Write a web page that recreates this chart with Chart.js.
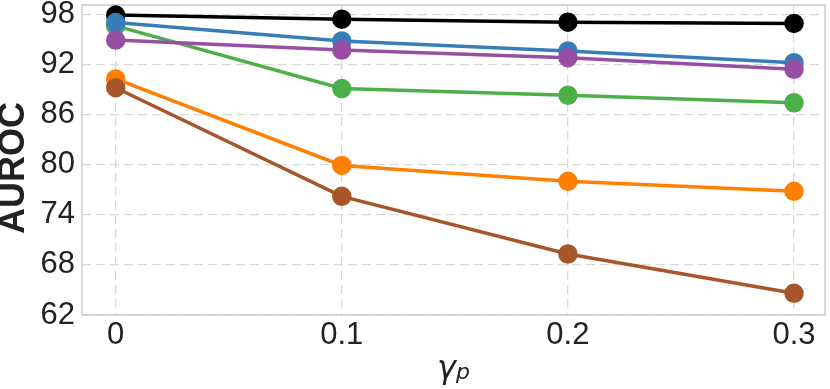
<!DOCTYPE html>
<html>
<head>
<meta charset="utf-8">
<script src="https://cdn.jsdelivr.net/npm/chart.js@4.4.1/dist/chart.umd.min.js"></script>
<style>
  html, body { margin: 0; padding: 0; background: #fff; }
  #wrap { width: 830px; height: 389px; }
</style>
</head>
<body>
<div id="wrap"><canvas id="aurocchart" width="830" height="389"></canvas></div>
<script>
// data
const gammaP = [0, 0.1, 0.2, 0.3];
const yTicks = [62, 68, 74, 80, 86, 92, 98];

const purpleVals = [94.9, 93.7, 92.8, 91.4];
const blueVals   = [97.0, 94.8, 93.6, 92.2];
const blackVals  = [97.9, 97.4, 97.05, 96.9];
const greenVals  = [96.6, 89.1, 88.3, 87.4];
const brownVals  = [89.2, 76.2, 69.3, 64.6];
const orangeVals = [90.25, 79.9, 78.0, 76.8];

const FONT = "'Liberation Sans', Arial, sans-serif";

function pts(vals) {
  return vals.map((v, i) => ({ x: gammaP[i], y: v }));
}

function line(vals, color) {
  return {
    data: pts(vals),
    borderColor: color,
    backgroundColor: color,
    pointBackgroundColor: color,
    pointBorderColor: color,
    borderWidth: 3.5,
    pointRadius: 8,
    pointHoverRadius: 8,
    fill: false,
    tension: 0
  };
}

// light grey frame around the plot + the axis titles
const framePlugin = {
  id: 'frame',
  beforeDatasetsDraw(chart) {
    const { ctx, chartArea: a } = chart;
    ctx.save();
    ctx.strokeStyle = '#cccccc';
    ctx.lineWidth = 1.5;
    ctx.strokeRect(a.left, a.top, a.right - a.left, a.bottom - a.top);
    ctx.restore();
  },
  afterDraw(chart) {
    const { ctx, chartArea: a } = chart;
    const cx = (a.left + a.right) / 2;
    ctx.save();
    ctx.fillStyle = '#222222';

    // y title
    ctx.save();
    ctx.translate(14, 168);
    ctx.rotate(-Math.PI / 2);
    ctx.textAlign = 'center';
    ctx.textBaseline = 'middle';
    ctx.font = "bold 36px " + FONT;
    ctx.fillText('AUROC', 0, 0);
    ctx.restore();

    // x title: gamma with subscript p
    ctx.textBaseline = 'alphabetic';
    ctx.textAlign = 'left';
    ctx.font = "italic 32px 'DejaVu Sans', sans-serif";
    const gw = ctx.measureText('γ').width;
    ctx.font = "italic 22px 'DejaVu Sans', sans-serif";
    const pw = ctx.measureText('p').width;
    const x0 = cx - (gw + pw) / 2;
    ctx.font = "italic 32px 'DejaVu Sans', sans-serif";
    ctx.fillText('γ', x0, 378);
    ctx.font = "italic 22px 'DejaVu Sans', sans-serif";
    ctx.fillText('p', x0 + gw, 379);
    ctx.restore();
  }
};

const ctx = document.getElementById('aurocchart').getContext('2d');

new Chart(ctx, {
  type: 'line',
  data: {
    datasets: [
      line(purpleVals, '#984ea3'),
      line(blueVals, '#377eb8'),
      line(blackVals, '#000000'),
      line(greenVals, '#4daf4a'),
      line(brownVals, '#a65628'),
      line(orangeVals, '#ff7f00')
    ]
  },
  options: {
    responsive: false,
    animation: false,
    layout: { autoPadding: false, padding: { top: 5, right: 5, left: 0, bottom: 0 } },
    plugins: {
      legend: { display: false },
      title: { display: false },
      tooltip: { enabled: false }
    },
    scales: {
      x: {
        type: 'linear',
        min: -0.0149,
        max: 0.3137,
        afterBuildTicks: (scale) => { scale.ticks = gammaP.map(v => ({ value: v })); },
        afterFit: (scale) => {
          scale.height = 74;
          scale.paddingLeft = 0;
          scale.paddingRight = 0;
        },
        ticks: {
          color: '#222222',
          font: { family: FONT, size: 31 },
          padding: 2,
          maxRotation: 0,
          callback: (v) => String(v)
        },
        grid: { color: '#d9d9d9', lineWidth: 1.3, drawTicks: false },
        border: { display: false, dash: [9, 5] }
      },
      y: {
        type: 'linear',
        min: 62,
        max: 99.1,
        afterBuildTicks: (scale) => { scale.ticks = yTicks.map(v => ({ value: v })); },
        afterFit: (scale) => {
          scale.width = 82;
          scale.paddingTop = 0;
          scale.paddingBottom = 0;
        },
        ticks: {
          color: '#222222',
          font: { family: FONT, size: 31 },
          padding: 7,
          callback: (v) => String(v)
        },
        grid: { color: '#d9d9d9', lineWidth: 1.3, drawTicks: false },
        border: { display: false, dash: [9, 5] }
      }
    }
  },
  plugins: [framePlugin]
});
</script>
</body>
</html>
